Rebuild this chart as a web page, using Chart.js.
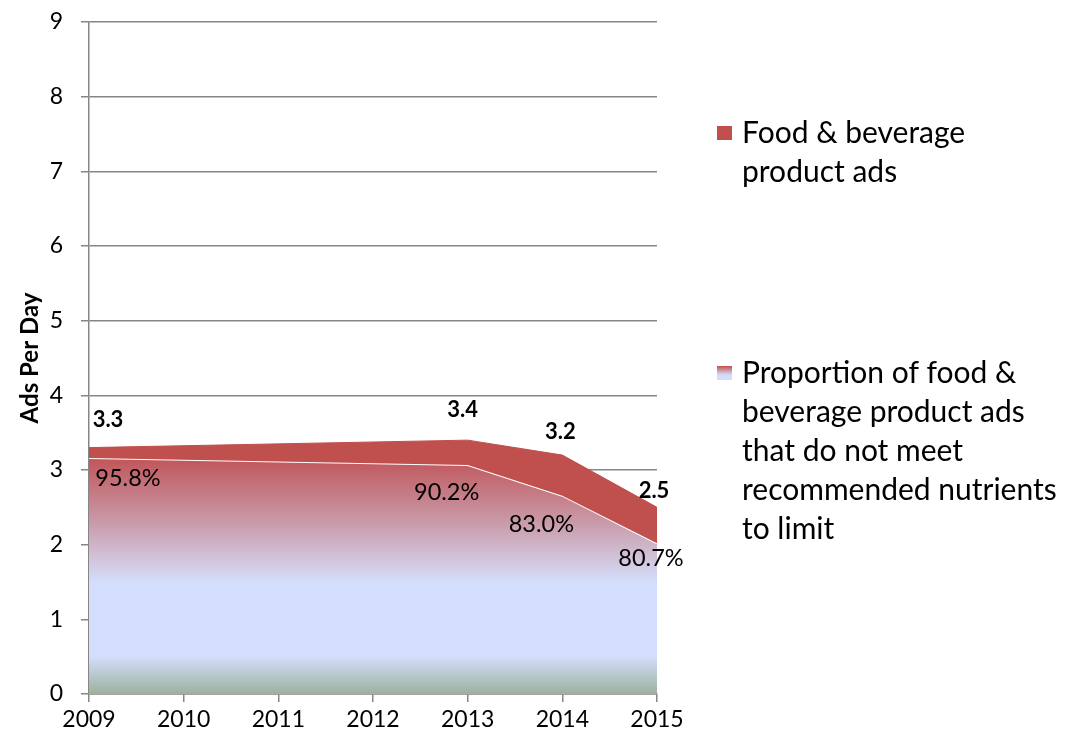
<!DOCTYPE html>
<html>
<head>
<meta charset="utf-8">
<script src="https://cdn.jsdelivr.net/npm/chart.js@4"></script>
<style>
  html, body { margin: 0; padding: 0; background: #fff; }
  #wrap { width: 1071px; height: 742px; position: relative; }
</style>
</head>
<body>
<div id="wrap"><canvas id="adsChart" width="1071" height="742"></canvas></div>
<script>
// data
const years = [2009, 2013, 2014, 2015];
const adsPerDay = [3.3, 3.4, 3.2, 2.5];              // food & beverage ads per day
const pctUnhealthy = [95.8, 90.2, 83.0, 80.7];        // % not meeting nutrient limits
const yTicks = [0, 1, 2, 3, 4, 5, 6, 7, 8, 9];
const seriesNames = [
  ['Food & beverage', 'product ads'],
  ['Proportion of food &', 'beverage product ads', 'that do not meet', 'recommended nutrients', 'to limit']
];

const unhealthyAds = adsPerDay.map((v, i) => v * pctUnhealthy[i] / 100);

// label nudges (px) so the values sit like in the report
const totalLabelShift = [[19, -28], [-5, -30], [-2, -23], [-3, -16]];
const pctLabelShift = [[39, 20], [-21, 27], [-21, 29], [-6, 15]];

const RED = '#c0504d';
const FONT = 'Lato, "Open Sans", sans-serif';

// vertical colour bands of the lower area, by axis value
const bandStops = [
  [3.3, '#c0504d'],
  [3.1, '#c15a5f'],
  [2.3, '#c99aa9'],
  [1.7, '#d3cde6'],
  [1.5, '#d3defc'],
  [0.5, '#d3defc'],
  [0.0, '#9db19c']
];

function bandGradient(chart) {
  const y = chart.scales.y;
  if (!chart.chartArea || !y) return '#d3defc';
  const top = y.getPixelForValue(bandStops[0][0]);
  const bottom = y.getPixelForValue(0);
  if (!isFinite(top) || !isFinite(bottom)) return '#d3defc';
  const g = chart.ctx.createLinearGradient(0, top, 0, bottom);
  bandStops.forEach(([v, c]) => {
    g.addColorStop((bandStops[0][0] - v) / bandStops[0][0], c);
  });
  return g;
}

// value labels + the legend on the right
const annotate = {
  id: 'annotate',
  afterDatasetsDraw(chart) {
    const c = chart.ctx;
    const x = chart.scales.x, y = chart.scales.y;
    c.save();
    c.fillStyle = '#000';
    c.textAlign = 'center';
    c.textBaseline = 'middle';

    c.font = 'bold 22px ' + FONT;
    years.forEach((yr, i) => {
      c.fillText(adsPerDay[i].toFixed(1),
        x.getPixelForValue(yr) + totalLabelShift[i][0],
        y.getPixelForValue(adsPerDay[i]) + totalLabelShift[i][1]);
    });
    c.font = '23.5px ' + FONT;
    years.forEach((yr, i) => {
      c.fillText(pctUnhealthy[i].toFixed(1) + '%',
        x.getPixelForValue(yr) + pctLabelShift[i][0],
        y.getPixelForValue(unhealthyAds[i]) + pctLabelShift[i][1]);
    });

    // legend
    const lx = 717, tx = 742, lineH = 39;
    const tops = [133, 373];
    c.textAlign = 'left';
    c.font = '30px ' + FONT;
    seriesNames.forEach((lines, k) => {
      const ty = tops[k];
      if (k === 0) {
        c.fillStyle = RED;
      } else {
        const g = c.createLinearGradient(0, ty - 7, 0, ty + 7);
        g.addColorStop(0, '#c0504d');
        g.addColorStop(0.55, '#d3cde6');
        g.addColorStop(0.7, '#d3defc');
        g.addColorStop(1, '#d3defc');
        c.fillStyle = g;
      }
      c.fillRect(lx, ty - 7, 15, 14);
      c.fillStyle = '#000';
      lines.forEach((t, j) => c.fillText(t, tx, ty + j * lineH));
    });
    c.restore();
  }
};

new Chart(document.getElementById('adsChart'), {
  type: 'line',
  data: {
    datasets: [
      {
        label: seriesNames[0].join(' '),
        data: years.map((yr, i) => ({ x: yr, y: adsPerDay[i] })),
        borderColor: RED,
        borderWidth: 1,
        backgroundColor: RED,
        fill: '+1',
        pointRadius: 0,
        tension: 0
      },
      {
        label: seriesNames[1].join(' '),
        data: years.map((yr, i) => ({ x: yr, y: unhealthyAds[i] })),
        borderColor: '#ffffff',
        borderWidth: 2,
        backgroundColor: (ctx) => bandGradient(ctx.chart),
        fill: 'origin',
        pointRadius: 0,
        tension: 0
      }
    ]
  },
  options: {
    responsive: false,
    animation: false,
    layout: { padding: { top: 22, right: 414, left: 0, bottom: 0 } },
    plugins: {
      legend: { display: false },
      tooltip: { enabled: false }
    },
    scales: {
      x: {
        type: 'linear',
        min: 2009,
        max: 2015,
        afterFit: (s) => { s.height = 48; },
        border: { color: '#868686', width: 1.5 },
        grid: { drawOnChartArea: false, drawTicks: true, tickLength: 8, color: '#868686', lineWidth: 1.5 },
        ticks: {
          stepSize: 1,
          color: '#000',
          font: { family: FONT, size: 23 },
          padding: 4,
          callback: (v) => String(v)
        }
      },
      y: {
        min: 0,
        max: 9,
        afterFit: (s) => { s.width = 89; s.paddingTop = 0; s.paddingBottom = 0; },
        afterBuildTicks: (s) => { s.ticks = yTicks.map(v => ({ value: v })); },
        border: { color: '#868686', width: 1.5 },
        grid: { color: '#868686', lineWidth: 1.5, tickLength: 8 },
        ticks: {
          color: '#000',
          font: { family: FONT, size: 23 },
          padding: 18
        },
        title: {
          display: true,
          text: 'Ads Per Day',
          color: '#000',
          font: { family: FONT, size: 24, weight: 'bold' },
          padding: { top: 16, bottom: 0 }
        }
      }
    }
  },
  plugins: [annotate]
});
</script>
</body>
</html>
